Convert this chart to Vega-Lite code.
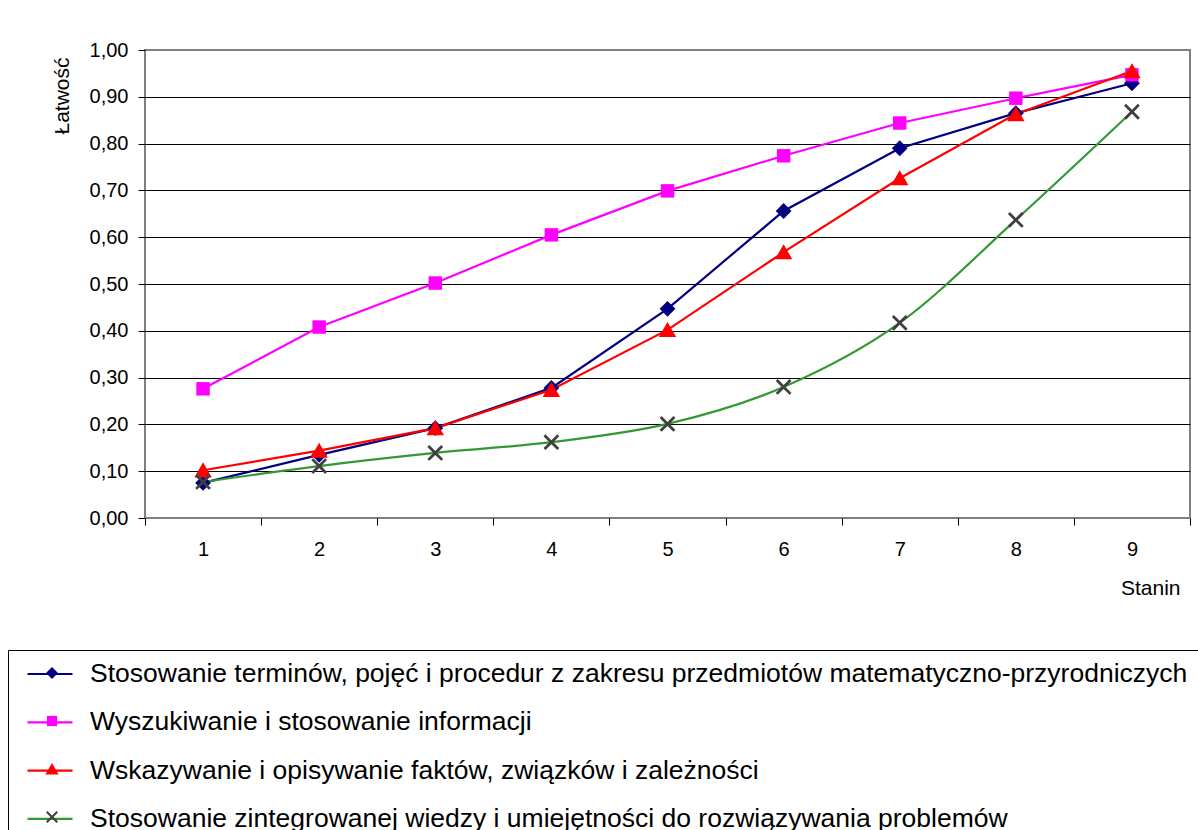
{
  "$schema": "https://vega.github.io/schema/vega-lite/v6.json",
  "width": 1045,
  "height": 468,
  "autosize": {"type": "none"},
  "padding": {"left": 145, "top": 50, "right": 8, "bottom": 312},
  "background": "white",
  "config": {
    "font": "Liberation Sans",
    "view": {"stroke": "#808080", "strokeWidth": 2},
    "axis": {"labelColor": "#000", "titleColor": "#000", "labelFont": "Liberation Sans", "titleFont": "Liberation Sans"}
  },
  "data": {
    "values": [
      {"stanin": 1, "s": "Stosowanie terminów, pojęć i procedur z zakresu przedmiotów matematyczno-przyrodniczych", "v": 0.075},
      {"stanin": 2, "s": "Stosowanie terminów, pojęć i procedur z zakresu przedmiotów matematyczno-przyrodniczych", "v": 0.135},
      {"stanin": 3, "s": "Stosowanie terminów, pojęć i procedur z zakresu przedmiotów matematyczno-przyrodniczych", "v": 0.192},
      {"stanin": 4, "s": "Stosowanie terminów, pojęć i procedur z zakresu przedmiotów matematyczno-przyrodniczych", "v": 0.278},
      {"stanin": 5, "s": "Stosowanie terminów, pojęć i procedur z zakresu przedmiotów matematyczno-przyrodniczych", "v": 0.447},
      {"stanin": 6, "s": "Stosowanie terminów, pojęć i procedur z zakresu przedmiotów matematyczno-przyrodniczych", "v": 0.656},
      {"stanin": 7, "s": "Stosowanie terminów, pojęć i procedur z zakresu przedmiotów matematyczno-przyrodniczych", "v": 0.79},
      {"stanin": 8, "s": "Stosowanie terminów, pojęć i procedur z zakresu przedmiotów matematyczno-przyrodniczych", "v": 0.865},
      {"stanin": 9, "s": "Stosowanie terminów, pojęć i procedur z zakresu przedmiotów matematyczno-przyrodniczych", "v": 0.929},
      {"stanin": 1, "s": "Wyszukiwanie i stosowanie informacji", "v": 0.276},
      {"stanin": 2, "s": "Wyszukiwanie i stosowanie informacji", "v": 0.408},
      {"stanin": 3, "s": "Wyszukiwanie i stosowanie informacji", "v": 0.502},
      {"stanin": 4, "s": "Wyszukiwanie i stosowanie informacji", "v": 0.605},
      {"stanin": 5, "s": "Wyszukiwanie i stosowanie informacji", "v": 0.699},
      {"stanin": 6, "s": "Wyszukiwanie i stosowanie informacji", "v": 0.774},
      {"stanin": 7, "s": "Wyszukiwanie i stosowanie informacji", "v": 0.844},
      {"stanin": 8, "s": "Wyszukiwanie i stosowanie informacji", "v": 0.897},
      {"stanin": 9, "s": "Wyszukiwanie i stosowanie informacji", "v": 0.947},
      {"stanin": 1, "s": "Wskazywanie i opisywanie faktów, związków i zależności", "v": 0.102},
      {"stanin": 2, "s": "Wskazywanie i opisywanie faktów, związków i zależności", "v": 0.144},
      {"stanin": 3, "s": "Wskazywanie i opisywanie faktów, związków i zależności", "v": 0.192},
      {"stanin": 4, "s": "Wskazywanie i opisywanie faktów, związków i zależności", "v": 0.274},
      {"stanin": 5, "s": "Wskazywanie i opisywanie faktów, związków i zależności", "v": 0.402},
      {"stanin": 6, "s": "Wskazywanie i opisywanie faktów, związków i zależności", "v": 0.568},
      {"stanin": 7, "s": "Wskazywanie i opisywanie faktów, związków i zależności", "v": 0.726},
      {"stanin": 8, "s": "Wskazywanie i opisywanie faktów, związków i zależności", "v": 0.863},
      {"stanin": 9, "s": "Wskazywanie i opisywanie faktów, związków i zależności", "v": 0.955},
      {"stanin": 1, "s": "Stosowanie zintegrowanej wiedzy i umiejętności do rozwiązywania problemów", "v": 0.077},
      {"stanin": 2, "s": "Stosowanie zintegrowanej wiedzy i umiejętności do rozwiązywania problemów", "v": 0.111},
      {"stanin": 3, "s": "Stosowanie zintegrowanej wiedzy i umiejętności do rozwiązywania problemów", "v": 0.139},
      {"stanin": 4, "s": "Stosowanie zintegrowanej wiedzy i umiejętności do rozwiązywania problemów", "v": 0.162},
      {"stanin": 5, "s": "Stosowanie zintegrowanej wiedzy i umiejętności do rozwiązywania problemów", "v": 0.201},
      {"stanin": 6, "s": "Stosowanie zintegrowanej wiedzy i umiejętności do rozwiązywania problemów", "v": 0.28},
      {"stanin": 7, "s": "Stosowanie zintegrowanej wiedzy i umiejętności do rozwiązywania problemów", "v": 0.417},
      {"stanin": 8, "s": "Stosowanie zintegrowanej wiedzy i umiejętności do rozwiązywania problemów", "v": 0.637},
      {"stanin": 9, "s": "Stosowanie zintegrowanej wiedzy i umiejętności do rozwiązywania problemów", "v": 0.868}
    ]
  },
  "encoding": {
    "x": {
      "field": "stanin", "type": "quantitative",
      "scale": {"domain": [0.5, 9.5], "nice": false, "zero": false},
      "axis": {
        "values": [0.5, 1, 1.5, 2, 2.5, 3, 3.5, 4, 4.5, 5, 5.5, 6, 6.5, 7, 7.5, 8, 8.5, 9, 9.5],
        "labelExpr": "datum.value % 1 === 0 ? '' + datum.value : ''",
        "tickOpacity": {"condition": {"test": "datum.value % 1 === 0", "value": 0}, "value": 1},
        "tickColor": "#000", "tickSize": 7, "tickWidth": 1,
        "labelFontSize": 20, "labelPadding": 14, "labelOverlap": false, "labelBound": false, "labelFlush": false,
        "domain": false, "grid": false,
        "title": "Stanin", "titleFontSize": 21, "titleFontWeight": "normal",
        "titleX": 1035, "titleY": 70, "titleAlign": "right", "titleBaseline": "middle"
      }
    },
    "y": {
      "field": "v", "type": "quantitative",
      "scale": {"domain": [0, 1], "nice": false},
      "axis": {
        "values": [0, 0.1, 0.2, 0.3, 0.4, 0.5, 0.6, 0.7, 0.8, 0.9, 1],
        "labelExpr": "replace(format(datum.value, '.2f'), '.', ',')",
        "grid": true, "gridColor": "#000", "gridWidth": 1,
        "gridOpacity": {"condition": {"test": "datum.value <= 0 || datum.value >= 1", "value": 0}, "value": 1},
        "tickColor": "#000", "tickSize": 7, "tickWidth": 1,
        "labelFontSize": 20, "labelPadding": 10,
        "domain": false,
        "title": "Łatwość", "titleFontSize": 21, "titleFontWeight": "normal",
        "titleAngle": -90, "titleX": -83, "titleY": 7, "titleAlign": "right", "titleBaseline": "middle"
      }
    }
  },
  "layer": [
    {
      "transform": [{"filter": "datum.s !== 'Stosowanie zintegrowanej wiedzy i umiejętności do rozwiązywania problemów'"}],
      "mark": {"type": "line", "strokeWidth": 2.2},
      "encoding": {
        "stroke": {
          "field": "s", "type": "nominal",
          "scale": {
            "domain": [
              "Stosowanie zintegrowanej wiedzy i umiejętności do rozwiązywania problemów",
              "Wskazywanie i opisywanie faktów, związków i zależności",
              "Wyszukiwanie i stosowanie informacji",
              "Stosowanie terminów, pojęć i procedur z zakresu przedmiotów matematyczno-przyrodniczych"
            ],
            "range": ["#339933", "#FF0000", "#FF00FF", "#000080"]
          },
          "legend": {
            "values": [
              "Stosowanie terminów, pojęć i procedur z zakresu przedmiotów matematyczno-przyrodniczych",
              "Wyszukiwanie i stosowanie informacji",
              "Wskazywanie i opisywanie faktów, związków i zależności",
              "Stosowanie zintegrowanej wiedzy i umiejętności do rozwiązywania problemów"
            ],
            "orient": "none", "legendX": -137, "legendY": 600, "direction": "vertical",
            "title": " ", "titleOrient": "right", "titlePadding": 20, "titleFontSize": 10,
            "padding": 0, "symbolOffset": 18,
            "strokeColor": "#000",
            "symbolType": "stroke", "symbolSize": 2025, "symbolStrokeWidth": 2.2,
            "labelFontSize": 26.5, "labelFont": "Liberation Sans", "labelColor": "#000",
            "labelOffset": 16, "labelLimit": 2000, "rowPadding": 10.3
          }
        }
      }
    },
    {
      "transform": [{"filter": "datum.s === 'Stosowanie zintegrowanej wiedzy i umiejętności do rozwiązywania problemów'"}],
      "mark": {"type": "line", "strokeWidth": 2.2, "interpolate": "monotone"},
      "encoding": {
        "stroke": {"field": "s", "type": "nominal"}
      }
    },
    {
      "mark": {"type": "point", "filled": true, "size": 250, "opacity": 1, "strokeOpacity": 0},
      "encoding": {
        "fill": {
          "field": "s", "type": "nominal",
          "scale": {
            "domain": [
              "Stosowanie terminów, pojęć i procedur z zakresu przedmiotów matematyczno-przyrodniczych",
              "Wyszukiwanie i stosowanie informacji",
              "Wskazywanie i opisywanie faktów, związków i zależności",
              "Stosowanie zintegrowanej wiedzy i umiejętności do rozwiązywania problemów"
            ],
            "range": ["#000080", "#FF00FF", "#FF0000", "#404040"]
          },
          "legend": {
            "orient": "none", "legendX": -137, "legendY": 610, "direction": "vertical",
            "title": null, "padding": 0, "symbolOffset": 31,
            "symbolSize": 144, "symbolStrokeWidth": 0,
            "labelFontSize": 26, "labelExpr": "''", "labelLimit": 2000, "rowPadding": 22
          }
        },
        "shape": {
          "field": "s", "type": "nominal",
          "scale": {
            "domain": [
              "Stosowanie terminów, pojęć i procedur z zakresu przedmiotów matematyczno-przyrodniczych",
              "Wyszukiwanie i stosowanie informacji",
              "Wskazywanie i opisywanie faktów, związków i zależności",
              "Stosowanie zintegrowanej wiedzy i umiejętności do rozwiązywania problemów"
            ],
            "range": [
              "M0,-1L1,0L0,1L-1,0Z",
              "M-0.85,-0.85H0.85V0.85H-0.85Z",
              "M0,-1L1.1,0.9L-1.1,0.9Z",
              "M-0.75,-1L0,-0.25L0.75,-1L1,-0.75L0.25,0L1,0.75L0.75,1L0,0.25L-0.75,1L-1,0.75L-0.25,0L-1,-0.75Z"
            ]
          },
          "legend": {
            "orient": "none", "legendX": -137, "legendY": 610, "direction": "vertical",
            "title": null, "padding": 0, "symbolOffset": 31,
            "symbolSize": 144, "symbolStrokeWidth": 0,
            "labelFontSize": 26, "labelExpr": "''", "labelLimit": 2000, "rowPadding": 22
          }
        }
      }
    }
  ]
}
